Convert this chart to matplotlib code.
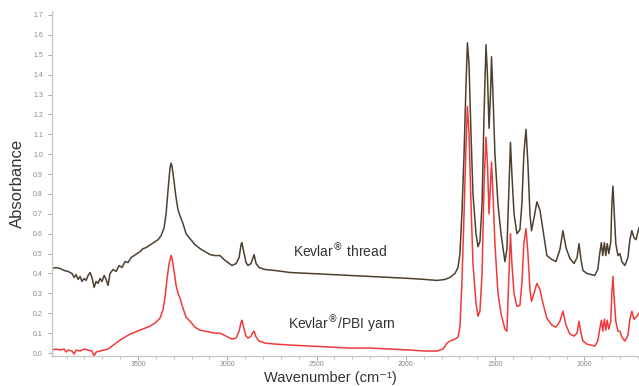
import numpy as np
import matplotlib.pyplot as plt
from matplotlib.ticker import MultipleLocator, FormatStrFormatter

# Kevlar thread spectrum (wavenumber in cm-1, absorbance)
thread_wn = [3982, 3959, 3937, 3914, 3892, 3870, 3858, 3847, 3836, 3825, 3814, 3802,
             3791, 3780, 3769, 3758, 3746, 3735, 3724, 3713, 3702, 3690, 3679, 3668,
             3657, 3640, 3623, 3606, 3590, 3573, 3556, 3539, 3522, 3506, 3489, 3472,
             3455, 3438, 3422, 3405, 3388, 3371, 3354, 3343, 3332, 3321, 3315, 3310,
             3298, 3287, 3276, 3265, 3248, 3231, 3209, 3181, 3153, 3125, 3097, 3069,
             3041, 3018, 2996, 2974, 2951, 2934, 2923, 2918, 2906, 2895, 2884, 2867,
             2856, 2850, 2839, 2822, 2789, 2733, 2649, 2537, 2425, 2313, 2201, 2089,
             1977, 1893, 1826, 1781, 1753, 1725, 1708, 1697, 1686, 1674, 1663, 1655,
             1646, 1635, 1624, 1607, 1596, 1585, 1573, 1562, 1551, 1543, 1534, 1526,
             1520, 1512, 1501, 1484, 1467, 1445, 1434, 1422, 1414, 1406, 1394, 1378,
             1361, 1350, 1339, 1327, 1316, 1305, 1296, 1282, 1266, 1249, 1232, 1210,
             1182, 1159, 1137, 1120, 1103, 1081, 1058, 1041, 1030, 1019, 1008, 986,
             964, 942, 925, 914, 905, 897, 888, 880, 872, 863, 852, 846,
             840, 835, 824, 812, 801, 790, 773, 756, 745, 734, 722, 711, 694]
thread_abs = [0.425, 0.43, 0.425, 0.415, 0.41, 0.40, 0.38, 0.395, 0.37, 0.385, 0.36, 0.375,
              0.365, 0.39, 0.405, 0.38, 0.33, 0.36, 0.35, 0.375, 0.36, 0.39, 0.37, 0.34,
              0.40, 0.42, 0.41, 0.44, 0.43, 0.46, 0.455, 0.48, 0.49, 0.50, 0.51, 0.525,
              0.53, 0.54, 0.55, 0.56, 0.57, 0.59, 0.63, 0.70, 0.82, 0.93, 0.955, 0.94,
              0.86, 0.78, 0.72, 0.69, 0.65, 0.60, 0.575, 0.545, 0.525, 0.51, 0.495, 0.49,
              0.49, 0.47, 0.455, 0.44, 0.45, 0.48, 0.545, 0.555, 0.50, 0.455, 0.44, 0.45,
              0.48, 0.495, 0.45, 0.43, 0.42, 0.415, 0.405, 0.40, 0.395, 0.39, 0.385, 0.38,
              0.375, 0.37, 0.365, 0.37, 0.38, 0.40, 0.43, 0.50, 0.70, 1.0, 1.35, 1.56,
              1.45, 1.1, 0.8, 0.6, 0.535, 0.56, 0.75, 1.2, 1.55, 1.4, 1.13, 1.3,
              1.49, 1.3, 1.0, 0.75, 0.6, 0.46, 0.52, 0.85, 1.06, 0.9, 0.7, 0.60,
              0.62, 0.75, 1.0, 1.125, 0.95, 0.7, 0.615, 0.68, 0.76, 0.72, 0.62, 0.49,
              0.47, 0.46, 0.52, 0.615, 0.53, 0.475, 0.45, 0.48, 0.55, 0.47, 0.415, 0.40,
              0.395, 0.39, 0.42, 0.50, 0.555, 0.49, 0.555, 0.49, 0.55, 0.50, 0.56, 0.75,
              0.84, 0.75, 0.55, 0.49, 0.50, 0.46, 0.44, 0.48, 0.57, 0.615, 0.58, 0.57, 0.63]

# Kevlar/PBI yarn spectrum
yarn_wn = [3982, 3959, 3937, 3914, 3903, 3892, 3870, 3858, 3847, 3825, 3802, 3780,
           3758, 3746, 3735, 3713, 3690, 3668, 3646, 3623, 3601, 3573, 3545, 3517,
           3489, 3461, 3433, 3405, 3377, 3360, 3349, 3338, 3326, 3315, 3310, 3298,
           3287, 3276, 3265, 3248, 3231, 3209, 3181, 3153, 3125, 3097, 3069, 3041,
           3018, 2996, 2974, 2951, 2934, 2923, 2918, 2906, 2895, 2884, 2867, 2856,
           2850, 2839, 2822, 2789, 2733, 2649, 2537, 2425, 2313, 2201, 2089, 1977,
           1893, 1826, 1792, 1770, 1753, 1725, 1708, 1697, 1686, 1674, 1663, 1655,
           1646, 1635, 1624, 1607, 1596, 1585, 1573, 1562, 1551, 1543, 1534, 1526,
           1520, 1512, 1501, 1484, 1467, 1445, 1434, 1422, 1414, 1406, 1394, 1378,
           1361, 1350, 1339, 1327, 1316, 1305, 1296, 1282, 1266, 1249, 1232, 1210,
           1182, 1159, 1137, 1120, 1103, 1081, 1058, 1041, 1030, 1019, 1008, 986,
           964, 942, 925, 914, 905, 897, 888, 880, 872, 863, 852, 846,
           840, 835, 824, 812, 801, 790, 773, 756, 745, 734, 722, 711, 694]
yarn_abs = [0.015, 0.02, 0.015, 0.02, 0.005, 0.015, 0.01, -0.005, 0.015, 0.01, 0.02, 0.015,
            0.01, -0.015, 0.005, 0.01, 0.015, 0.02, 0.035, 0.05, 0.065, 0.08, 0.095, 0.105,
            0.115, 0.125, 0.135, 0.15, 0.175, 0.22, 0.28, 0.37, 0.45, 0.49, 0.48, 0.41,
            0.34, 0.30, 0.275, 0.225, 0.18, 0.16, 0.13, 0.115, 0.11, 0.105, 0.10, 0.10,
            0.09, 0.08, 0.07, 0.075, 0.11, 0.155, 0.165, 0.12, 0.085, 0.075, 0.085, 0.105,
            0.11, 0.08, 0.06, 0.05, 0.045, 0.04, 0.035, 0.03, 0.025, 0.025, 0.02, 0.015,
            0.01, 0.01, 0.02, 0.05, 0.06, 0.07, 0.08, 0.13, 0.35, 0.7, 1.05, 1.24,
            1.1, 0.75, 0.45, 0.25, 0.185, 0.21, 0.4, 0.85, 1.085, 0.95, 0.70, 0.85,
            0.96, 0.8, 0.55, 0.3, 0.2, 0.12, 0.11, 0.4, 0.60, 0.45, 0.30, 0.235,
            0.24, 0.35, 0.55, 0.625, 0.5, 0.32, 0.26, 0.30, 0.35, 0.32, 0.25, 0.175,
            0.14, 0.13, 0.16, 0.21, 0.14, 0.095, 0.085, 0.10, 0.16, 0.10, 0.06, 0.045,
            0.04, 0.035, 0.06, 0.12, 0.165, 0.11, 0.17, 0.115, 0.165, 0.12, 0.16, 0.30,
            0.385, 0.30, 0.16, 0.11, 0.11, 0.08, 0.06, 0.09, 0.17, 0.21, 0.17, 0.18, 0.20]

plt.rcParams['font.family'] = ['Liberation Sans', 'DejaVu Sans']

fig = plt.figure(figsize=(6.39, 3.86), dpi=100)
ax = fig.add_axes([52 / 639, 30 / 386, 1 - 52 / 639, 345 / 386])

ax.plot(thread_wn, thread_abs, color='#4e4030', lw=1.1)
ax.plot(yarn_wn, yarn_abs, color='#f03a3a', lw=1.1)

ax.set_xlim(3982, 694)
ax.set_ylim(-0.015, 1.72)

ax.xaxis.set_major_locator(MultipleLocator(500))
ax.xaxis.set_minor_locator(MultipleLocator(100))
ax.yaxis.set_major_locator(MultipleLocator(0.1))
ax.yaxis.set_major_formatter(FormatStrFormatter('%.1f'))

for s in ['top', 'right']:
    ax.spines[s].set_visible(False)
for s in ['left', 'bottom']:
    ax.spines[s].set_color('#c8c8c8')
    ax.spines[s].set_linewidth(1.0)

ax.tick_params(axis='both', which='major', labelsize=5, colors='#999999',
               labelcolor='#888888', length=3, width=0.6, direction='out')
ax.tick_params(axis='x', which='minor', length=2, width=0.5, colors='#aaaaaa')
ax.tick_params(axis='x', which='major', pad=0.5)

ax.set_ylabel('Absorbance', fontsize=12, color='#333333', labelpad=6)
ax.set_xlabel('Wavenumber (cm\u207b\u00b9)', fontsize=10.5, color='#333333', va='bottom')
ax.xaxis.set_label_coords(0.475, -0.083)

# sample labels, registered mark raised as in the source figure
ax.text(2369, 0.515, 'Kevlar$^{\u00ae}$ thread', fontsize=10, color='#333333',
        ha='center', va='center')
ax.text(2358, 0.145, 'Kevlar$^{\u00ae}$/PBI yarn', fontsize=10, color='#333333',
        ha='center', va='center')

fig.savefig('out.png', dpi=100)
